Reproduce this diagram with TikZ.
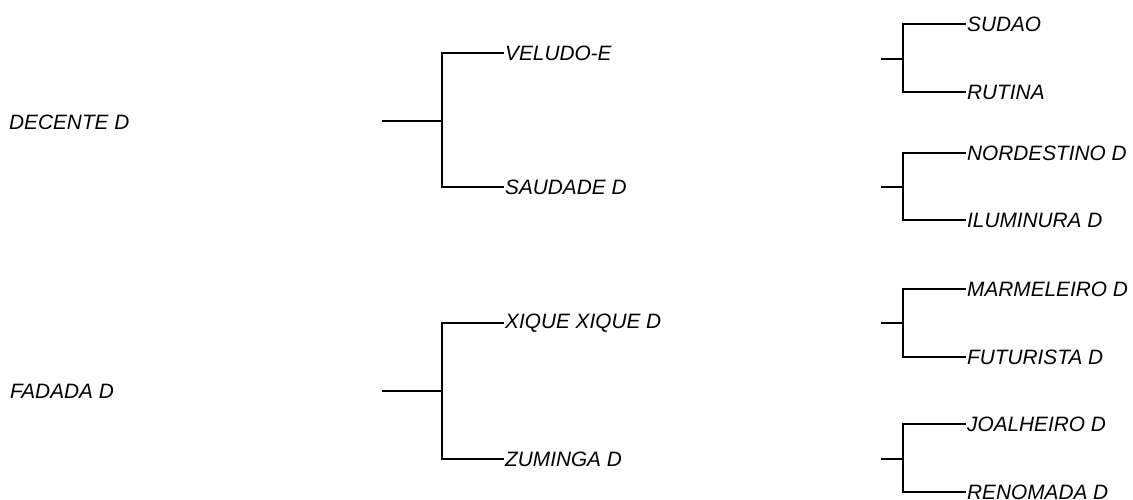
\documentclass[tikz,border=0pt]{standalone}
\usepackage{fontspec}
\setmainfont{Liberation Sans}
\usetikzlibrary{positioning}

\begin{document}
\begin{tikzpicture}[x=1pt,y=-1pt,line width=2.4pt]
      \tikzstyle{leaf}=[anchor=west,inner sep=0pt,
                        font=\fontsize{20.8}{24}\selectfont\itshape]
      \useasboundingbox (0,0) rectangle (1133,500);

      \node[leaf] (decente) at (8,122) {DECENTE D};
      \node[leaf] (fadada)  at (9,391) {FADADA D};

      % middle column
      \coordinate (s1) at (382,121);
      \coordinate (j1) at (442,121);
      \node[leaf] (veludo)  at (504,53)  {VELUDO-E};
      \node[leaf] (saudade) at (504,187) {SAUDADE D};

      \coordinate (s2) at (382,391);
      \coordinate (j2) at (442,391);
      \node[leaf] (xique)   at (504,323) {XIQUE XIQUE D};
      \node[leaf] (zuminga) at (504,459) {ZUMINGA D};

      \draw (s1) -- (j1);
      \draw (veludo.west) -| (j1) |- (saudade.west);
      \draw (s2) -- (j2);
      \draw (xique.west) -| (j2) |- (zuminga.west);

      % right column
      \coordinate (s3) at (881,59);
      \coordinate (j3) at (903,59);
      \node[leaf] (sudao)  at (966,24) {SUDAO};
      \node[leaf] (rutina) at (966,92) {RUTINA};

      \coordinate (s4) at (881,187);
      \coordinate (j4) at (903,187);
      \node[leaf] (nordestino) at (966,153) {NORDESTINO D};
      \node[leaf] (iluminura)  at (966,220) {ILUMINURA D};

      \coordinate (s5) at (881,323);
      \coordinate (j5) at (903,323);
      \node[leaf] (marmeleiro) at (966,289) {MARMELEIRO D};
      \node[leaf] (futurista)  at (966,357) {FUTURISTA D};

      \coordinate (s6) at (881,459);
      \coordinate (j6) at (903,459);
      \node[leaf] (joalheiro) at (966,424) {JOALHEIRO D};
      \node[leaf] (renomada)  at (966,492) {RENOMADA D};

      \draw (s3) -- (j3);
      \draw (sudao.west) -| (j3) |- (rutina.west);
      \draw (s4) -- (j4);
      \draw (nordestino.west) -| (j4) |- (iluminura.west);
      \draw (s5) -- (j5);
      \draw (marmeleiro.west) -| (j5) |- (futurista.west);
      \draw (s6) -- (j6);
      \draw (joalheiro.west) -| (j6) |- (renomada.west);
    \end{tikzpicture}
\end{document}
